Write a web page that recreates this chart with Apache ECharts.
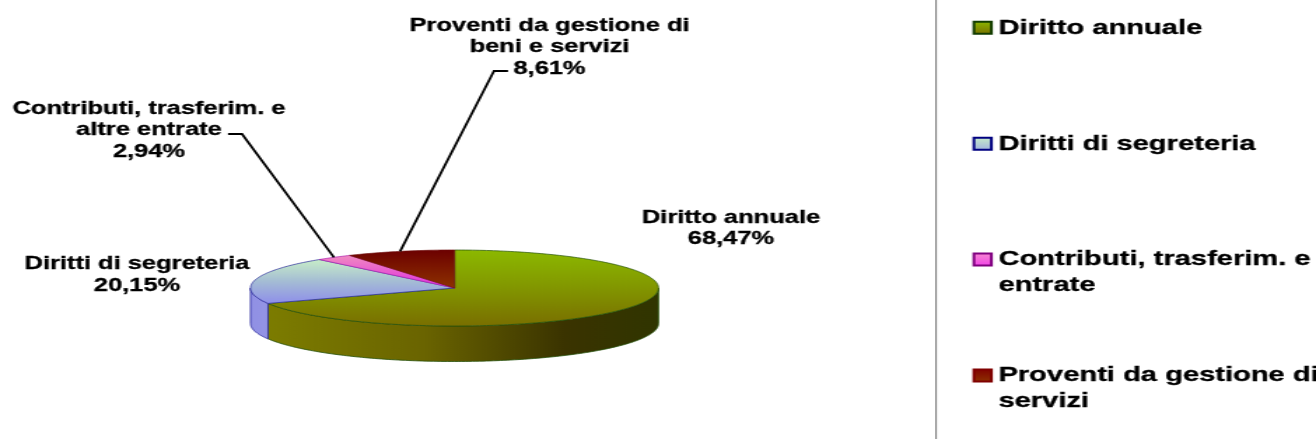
<!DOCTYPE html>
<html>
<head>
<meta charset="utf-8">
<style>
html,body{margin:0;padding:0;background:#fff;overflow:hidden;width:1316px;height:439px}
#c{width:940px;height:439px;transform:scaleX(1.4);transform-origin:0 0}
</style>
<script src="https://cdn.jsdelivr.net/npm/echarts@6/dist/echarts.min.js"></script>
</head>
<body>
<div id="c"></div>
<script>
const categories = ['Diritto annuale','Diritti di segreteria','Contributi, trasferim. e altre entrate','Proventi da gestione di beni e servizi'];
const values = [68.47,20.15,2.94,8.61];
const valueLabels = ['68,47%','20,15%','2,94%','8,61%'];
const sliceLabelLines = ['Diritto annuale','Diritti di segreteria','Contributi, trasferim. e\naltre entrate','Proventi da gestione di\nbeni e servizi'];
// a leading blank line keeps the swatch level with the first line of a wrapped entry
const legendLines = ['Diritto annuale','Diritti di segreteria','\nContributi, trasferim. e altre\nentrate','\nProventi da gestione di beni e\nservizi'];

// Layout and style (the page is stretched horizontally by S, like the original picture)
const S = 1.4;
const X = x => x / S;
const CX = X(454.5), CY = 288, RX = X(204), RY = 38, DEPTH = 35.5;
const labelCenters = [[731,228.5],[137,275],[149,130],[549.5,47]];
const leaderKnees = [null,null,[[242,134],[228,134]],[[494,71],[508,71]]];
const legendTops = [15,131,221,337];
const topStops = [
  [[0,'#8cb900'],[0.5,'#829600'],[1,'#796e00']],
  [[0,'#c8eec8'],[0.5,'#a4bcd4'],[1,'#8e8eea']],
  [[0,'#f08cc0'],[1,'#e02ce0']],
  [[0,'#6c0000'],[1,'#8e3200']]
];
const borders = ['#24500a','#28289a','#b020b0','#701010'];
const wallStops = [
  [[0,'#7c7c00'],[0.4,'#6a6400'],[0.76,'#3a3300'],[1,'#303500']],
  [[0,'#9090e4'],[1,'#9494e4']],
  null,null
];
const legendStops = [
  [[0,'#8cb900'],[1,'#796e00']],
  [[0,'#c8eec8'],[1,'#a0b0e0']],
  [[0,'#f88cd0'],[1,'#f040e8']],
  [[0,'#800000'],[1,'#8e3200']]
];
const legendBorders = ['#123c00','#000080','#800080','#800000'];
const solid = ['#8a9a00','#a4bcd4','#e860d0','#7a1800'];

const vgrad = s => new echarts.graphic.LinearGradient(0,0,0,1,s.map(p=>({offset:p[0],color:p[1]})));
const hgrad = s => new echarts.graphic.LinearGradient(0,0,1,0,s.map(p=>({offset:p[0],color:p[1]})));
const total = values.reduce((a,b)=>a+b,0);
const ptAt = (a,dy) => [CX + RX*Math.sin(a), CY - RY*Math.cos(a) + (dy||0)];

function renderSlice(params, api){
  const i = params.seriesIndex;
  const v = api.value(0);
  let before = 0;
  for (let k=0;k<i;k++) before += values[k];
  const a0 = before/total*2*Math.PI, a1 = (before+v)/total*2*Math.PI;
  const children = [];
  const step = Math.PI/180;

  // side wall: only the front half of the disc is visible
  const w0 = Math.max(a0, Math.PI/2), w1 = Math.min(a1, Math.PI*1.5);
  if (w1 > w0 && wallStops[i]) {
    const up = [], down = [];
    for (let a=w0; a<w1; a+=step){ up.push(ptAt(a)); down.unshift(ptAt(a,DEPTH)); }
    up.push(ptAt(w1)); down.unshift(ptAt(w1,DEPTH));
    children.push({type:'polygon',shape:{points:up.concat(down)},
      style:{fill:hgrad(wallStops[i]),stroke:borders[i],lineWidth:0.8}});
  }
  // top face
  const pts = [[CX,CY]];
  for (let a=a0; a<a1; a+=step) pts.push(ptAt(a));
  pts.push(ptAt(a1));
  children.push({type:'polygon',shape:{points:pts},
    style:{fill:vgrad(topStops[i]),stroke:borders[i],lineWidth:0.7}});

  // leader line from the middle of the slice edge
  if (leaderKnees[i]) {
    const mid = ptAt((a0+a1)/2);
    const line = [mid].concat(leaderKnees[i].map(p=>[X(p[0]),p[1]]));
    children.push({type:'polyline',shape:{points:line},z2:20,
      style:{fill:null,stroke:'#000',lineWidth:1.8}});
  }
  // data label
  const c = labelCenters[i];
  children.push({type:'text',z2:30,x:X(c[0]),y:c[1],style:{
    text:sliceLabelLines[i]+'\n'+valueLabels[i],
    align:'center',verticalAlign:'middle',
    font:'bold 18.2px "Liberation Sans", Arial, sans-serif',
    lineHeight:21.5,fill:'#000',stroke:'#000',lineWidth:0.3}});
  return {type:'group',children};
}

const chart = echarts.init(document.getElementById('c'),null,{width:940,height:439,renderer:'canvas'});
chart.setOption({
  animation:false,
  backgroundColor:'#fff',
  legend: categories.map((name,i)=>({
    orient:'vertical',
    left:X(972.5),
    top:legendTops[i],
    padding:0,
    itemWidth:X(17.5),
    itemHeight:12,
    itemGap:0,
    selectedMode:false,
    formatter:()=>legendLines[i],
    textStyle:{
      color:'#000',fontWeight:'bold',fontSize:20.8,fontFamily:'"Liberation Sans", Arial, sans-serif',
      lineHeight:25.6,textBorderColor:'#000',textBorderWidth:0.3
    },
    data:[{name,icon:'rect',itemStyle:{color:vgrad(legendStops[i]),borderColor:legendBorders[i],borderWidth:2}}]
  })),
  graphic:[{type:'line',shape:{x1:X(936),y1:0,x2:X(936),y2:439},style:{stroke:'#808080',lineWidth:1.1}}],
  series: categories.map((name,i)=>({
    type:'custom',
    name,
    coordinateSystem:'none',
    renderItem:renderSlice,
    itemStyle:{color:solid[i]},
    silent:true,
    data:[[values[i]]]
  }))
});
</script>
</body>
</html>
